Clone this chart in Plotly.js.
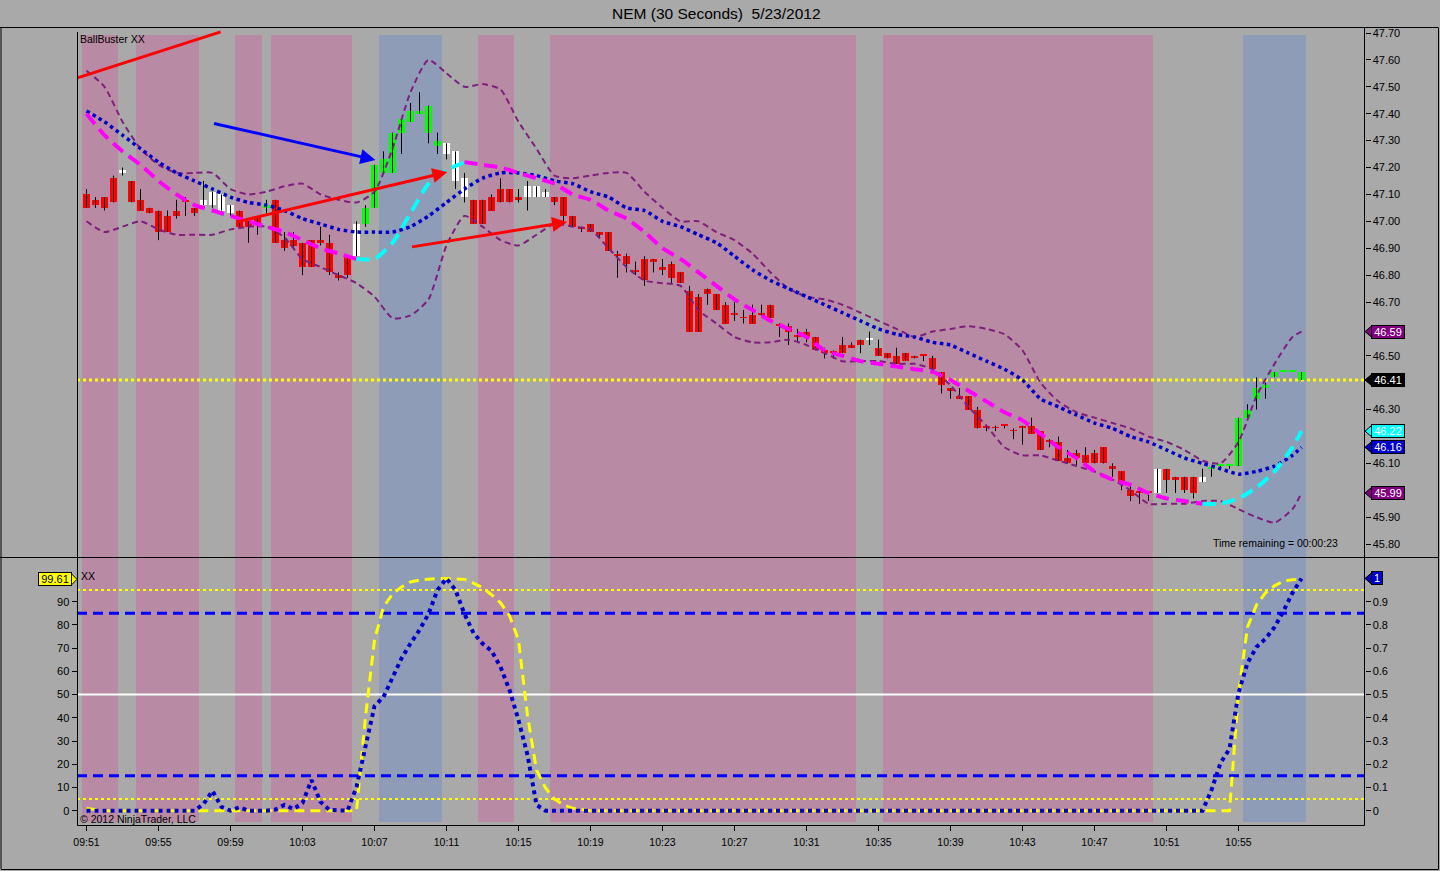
<!DOCTYPE html>
<html><head><meta charset="utf-8">
<script src="https://cdn.plot.ly/plotly-3.0.1.min.js"></script>
<style>html,body{margin:0;padding:0;background:#a9a9a9;overflow:hidden}#chart{width:1440px;height:871px}</style>
</head><body><div id="chart"></div>
<script>
// ---------- DATA (NEM, 30-second bars, 5/23/2012, bar 0 = 09:51:00) ----------
const tickBars   = [0,8,16,24,32,40,48,56,64,72,80,88,96,104,112,120,128];
const tickLabels = ['09:51','09:55','09:59','10:03','10:07','10:11','10:15','10:19','10:23','10:27','10:31','10:35','10:39','10:43','10:47','10:51','10:55'];
// price labels visible on the right axis (46.60, 46.40, 46.20, 46.00 are hidden behind value tags)
const priceTicks = [45.80,45.90,46.10,46.30,46.50,46.70,46.80,46.90,47.00,47.10,47.20,47.30,47.40,47.50,47.60,47.70];
const oscTicks = [0,10,20,30,40,50,60,70,80,90];
const oscRightTicks = [0,0.1,0.2,0.3,0.4,0.5,0.6,0.7,0.8,0.9];
const oscRightLabels = ['0','0.1','0.2','0.3','0.4','0.5','0.6','0.7','0.8','0.9'];

const opens = [
47.10,47.08,47.09,47.16,47.18,47.15,47.08,47.05,47.04,47.02,
47.04,47.08,47.05,47.06,47.06,47.04,47.03,47.04,47.00,47.02,
47.05,47.08,46.93,46.93,46.92,46.93,46.93,46.92,46.80,46.87,
46.87,46.99,47.05,47.18,47.18,47.33,47.37,47.40,47.33,47.28,
47.29,47.26,47.16,47.08,47.08,47.09,47.12,47.12,47.09,47.09,
47.09,47.09,47.09,47.09,47.02,46.98,46.99,46.96,46.96,46.88,
46.87,46.82,46.86,46.86,46.83,46.84,46.81,46.74,46.72,46.75,
46.73,46.69,46.66,46.64,46.65,46.66,46.69,46.62,46.61,46.57,
46.59,46.57,46.52,46.51,46.54,46.54,46.56,46.56,46.53,46.51,
46.50,46.51,46.50,46.50,46.49,46.44,46.38,46.35,46.35,46.30,
46.24,46.23,46.24,46.22,46.24,46.24,46.22,46.18,46.18,46.12,
46.14,46.13,46.14,46.16,46.09,46.07,46.00,45.99,45.99,45.99,
46.08,46.05,46.05,46.05,46.03,46.08,46.09,46.09,46.09,46.27,
46.34,46.38,46.42,46.44,46.44,46.44];
const highs = [
47.12,47.09,47.09,47.17,47.20,47.15,47.12,47.05,47.04,47.04,
47.08,47.09,47.05,47.15,47.11,47.10,47.06,47.04,47.00,47.02,
47.08,47.08,46.96,46.96,46.92,46.93,46.98,46.95,46.81,46.87,
47.00,47.06,47.21,47.26,47.33,47.38,47.44,47.48,47.43,47.33,
47.29,47.26,47.18,47.08,47.08,47.10,47.16,47.12,47.12,47.15,
47.13,47.12,47.09,47.09,47.02,46.98,46.99,46.96,46.96,46.89,
46.88,46.85,46.87,46.86,46.86,46.85,46.81,46.76,46.73,46.75,
46.73,46.70,46.70,46.67,46.69,46.69,46.69,46.62,46.62,46.60,
46.60,46.57,46.53,46.52,46.57,46.55,46.56,46.59,46.56,46.51,
46.53,46.51,46.50,46.50,46.50,46.44,46.38,46.38,46.35,46.31,
46.24,46.24,46.24,46.23,46.24,46.27,46.22,46.19,46.20,46.15,
46.15,46.16,46.15,46.16,46.10,46.07,46.02,46.00,45.99,46.08,
46.08,46.05,46.05,46.05,46.08,46.09,46.09,46.09,46.27,46.32,
46.42,46.40,46.44,46.44,46.44,46.44];
const lows = [
47.05,47.05,47.04,47.07,47.17,47.07,47.04,47.03,46.93,46.96,
47.01,47.02,47.02,47.06,47.05,47.04,47.02,46.98,46.92,46.95,
47.03,46.92,46.89,46.90,46.80,46.83,46.91,46.80,46.78,46.79,
46.87,46.98,47.05,47.18,47.18,47.25,47.37,47.40,47.29,47.25,
47.23,47.12,47.07,46.99,46.99,47.04,47.07,47.07,47.07,47.04,
47.09,47.09,47.06,46.99,46.98,46.96,46.96,46.94,46.89,46.79,
46.81,46.80,46.76,46.81,46.80,46.77,46.77,46.59,46.59,46.69,
46.67,46.62,46.63,46.62,46.62,46.65,46.64,46.57,46.54,46.55,
46.55,46.52,46.49,46.49,46.51,46.53,46.51,46.54,46.50,46.49,
46.47,46.48,46.49,46.48,46.45,46.36,46.34,46.34,46.30,46.23,
46.22,46.22,46.23,46.19,46.17,46.21,46.15,46.16,46.11,46.10,
46.09,46.10,46.10,46.10,46.05,46.00,45.96,45.95,45.96,45.99,
45.99,45.99,45.99,45.97,46.03,46.05,46.08,46.08,46.09,46.26,
46.30,46.34,46.42,46.44,46.44,46.41];
const closes = [
47.05,47.06,47.05,47.07,47.19,47.07,47.04,47.03,46.96,46.96,
47.02,47.07,47.03,47.08,47.11,47.10,47.06,46.98,46.98,46.99,
47.06,46.92,46.90,46.91,46.83,46.83,46.92,46.81,46.79,46.80,
46.99,47.05,47.21,47.23,47.33,47.38,47.41,47.41,47.43,47.30,
47.25,47.15,47.09,46.99,46.99,47.04,47.07,47.07,47.08,47.13,
47.13,47.11,47.07,47.02,46.98,46.97,46.96,46.95,46.89,46.87,
46.84,46.81,46.78,46.85,46.82,46.79,46.77,46.59,46.59,46.73,
46.67,46.62,46.65,46.64,46.62,46.65,46.64,46.61,46.59,46.57,
46.57,46.52,46.51,46.51,46.51,46.53,46.54,46.56,46.50,46.49,
46.47,46.48,46.49,46.50,46.45,46.39,46.37,46.34,46.30,46.23,
46.23,46.23,46.24,46.22,46.23,46.21,46.15,46.18,46.11,46.10,
46.12,46.10,46.10,46.10,46.08,46.03,45.98,45.99,45.99,46.08,
46.04,46.04,46.00,45.99,46.05,46.08,46.09,46.09,46.27,46.30,
46.38,46.39,46.44,46.44,46.44,46.41];
// bar colour state: r = bearish (red), g = bullish (green), w = neutral (white)
const barStates = ('rrrrwrrrrr'+'rrrwwwwrrr'+'grrrrrrrrr'+'wggggggggg'+'wwwrrrrrrw'+
                   'wwrrrrrrrr'+'rrrrrrrrrr'+'rrrrrrrrrr'+'rrrrrrrwrr'+'rrrrrrrrrr'+
                   'rrrrrrrrrr'+'rrrrrrrrrw'+'rrrrwggggg'+'gggggg').split('');

// indicator samples (every second bar)
const lineBars = [0,2,4,6,8,10,12,14,16,18,20,22,24,26,28,30,32,34,36,38,40,42,44,46,48,50,52,54,56,58,60,62,64,66,68,70,72,74,76,78,80,82,84,86,88,90,92,94,96,98,100,102,104,106,108,110,112,114,116,118,120,122,124,126,128,130,132,134,135];
const upperBand = [
47.56,47.50,47.37,47.27,47.21,47.18,47.18,47.18,47.12,47.10,
47.11,47.13,47.14,47.10,47.08,47.07,47.11,47.27,47.48,47.60,
47.55,47.50,47.51,47.49,47.37,47.27,47.17,47.16,47.17,47.18,
47.18,47.11,47.05,47.00,47.00,46.96,46.93,46.88,46.81,46.75,
46.72,46.71,46.69,46.66,46.63,46.60,46.57,46.59,46.60,46.61,
46.60,46.58,46.52,46.40,46.33,46.29,46.27,46.25,46.23,46.20,
46.18,46.15,46.11,46.10,46.18,46.35,46.47,46.57,46.59];
const lowerBand = [
47.00,46.96,46.98,47.00,46.97,46.95,46.95,46.95,46.97,46.98,
46.98,46.94,46.86,46.83,46.80,46.77,46.72,46.64,46.65,46.71,
46.91,47.02,46.98,46.93,46.91,46.95,46.99,46.98,46.97,46.90,
46.83,46.78,46.77,46.76,46.67,46.62,46.57,46.55,46.55,46.56,
46.54,46.51,46.48,46.48,46.48,46.47,46.47,46.45,46.39,46.31,
46.24,46.16,46.13,46.13,46.11,46.09,46.07,46.04,46.00,45.95,
45.95,45.95,45.96,45.96,45.93,45.90,45.88,45.93,45.99];
const middleBand = [
47.41,47.37,47.32,47.27,47.22,47.18,47.15,47.12,47.09,47.07,
47.06,47.04,47.01,46.99,46.97,46.96,46.96,46.96,46.98,47.02,
47.07,47.12,47.16,47.18,47.18,47.17,47.15,47.14,47.11,47.09,
47.05,47.04,47.00,46.98,46.95,46.92,46.87,46.82,46.78,46.75,
46.72,46.69,46.66,46.63,46.60,46.58,46.57,46.55,46.54,46.51,
46.48,46.45,46.41,46.34,46.31,46.28,46.25,46.23,46.20,46.18,
46.15,46.12,46.10,46.08,46.06,46.07,46.09,46.13,46.16];
const trendMA = [
47.40,47.32,47.26,47.21,47.15,47.10,47.06,47.04,47.02,47.00,
46.98,46.96,46.93,46.90,46.88,46.86,46.86,46.92,47.03,47.14,
47.19,47.22,47.21,47.20,47.18,47.16,47.14,47.10,47.08,47.04,
47.01,46.96,46.90,46.86,46.81,46.76,46.71,46.67,46.63,46.60,
46.57,46.52,46.50,46.48,46.47,46.46,46.45,46.44,46.41,46.37,
46.33,46.29,46.26,46.21,46.16,46.12,46.07,46.04,46.02,45.99,
45.97,45.96,45.95,45.95,45.97,46.01,46.07,46.16,46.22];

// lower panel "XX" oscillator, one value per bar (0-100)
const oscFast = [
0,0,0,0,0,0,0,0,0,0,
0,0,0,2.9,8.5,1.6,0,1.5,0,0,
0,0.5,2.5,0.7,3.3,13.2,3.8,0.3,0,0,
10.2,28.3,45,49,57.6,65.6,72,77.8,84.7,95,
100,95,84.7,76.5,72,68.8,61.9,52,39,24,
2.5,0,0,0,0,0,0,0,0,0,
0,0,0,0,0,0,0,0,0,0,
0,0,0,0,0,0,0,0,0,0,
0,0,0,0,0,0,0,0,0,0,
0,0,0,0,0,0,0,0,0,0,
0,0,0,0,0,0,0,0,0,0,
0,0,0,0,0,0,0,0,0,0,
0,0,0,0,0,8.9,20.5,26.6,50.7,63.6,
70.5,74,79,86,93.8,100];
const oscSlow = [
1,0.5,0,0,0,0,0,0,0,0,
0,0,0,0,0,0,0,0,0,0,
0,0,0,0,0,0,0,0,0,0,
0,40.4,73.5,87.7,93.3,96.3,98.5,99.3,99.8,100,
100,99.9,99.6,98,96,93,89.5,84,73.5,41,
17.5,9.8,5,2.5,1.1,0.5,0,0,0,0,
0,0,0,0,0,0,0,0,0,0,
0,0,0,0,0,0,0,0,0,0,
0,0,0,0,0,0,0,0,0,0,
0,0,0,0,0,0,0,0,0,0,
0,0,0,0,0,0,0,0,0,0,
0,0,0,0,0,0,0,0,0,0,
0,0,0,0,0,0,0,0,50.7,79,
88.6,93.8,96.8,98.9,99.4,99.61];
const oscUpperLevels = [95, 5];
const oscBandLevels = [85, 15];
const oscMidLevel = 50;

// shaded zones (bar index ranges)
const zoneStart = [0, 6, 17, 21, 33, 44, 52, 89, 129];
const zoneEnd   = [3, 12, 19, 29, 39, 47, 85, 118, 135];
const zoneKind  = ['bear','bear','bear','bear','bull','bear','bear','bear','bull'];

// hand-drawn lines / arrows on the chart: [barFrom, priceFrom, barTo, priceTo]
const drawnTrendLine = [-1, 47.533, 14.9, 47.704];
const drawnArrows = [
  {from:[14.0, 47.365], to:[32.1, 47.228], color:'#0000ff'},
  {from:[16.6, 46.997], to:[40.1, 47.183], color:'#ff0000'},
  {from:[36.0, 46.904], to:[53.4, 46.997], color:'#ff0000'}
];

// ---------- DRAWING ----------
const W = 1440, H = 871;
const xp = px => px / W;
const yp = py => 1 - py / H;
const FONT = '"Liberation Sans", Arial, Helvetica, sans-serif';
const bgGray = '#a9a9a9';
const colorMap = {r:'#ff0000', g:'#00ff00', w:'#ffffff'};
const barIdx = opens.map((_, i) => i);

const traces = [];

// wicks
const wx = [], wy = [];
barIdx.forEach(i => { wx.push(i, i, null); wy.push(lows[i], highs[i], null); });
traces.push({type:'scatter', mode:'lines', x:wx, y:wy, xaxis:'x', yaxis:'y',
  line:{color:'#000000', width:1}, hoverinfo:'skip'});

// bodies
traces.push({type:'bar', x:barIdx, xaxis:'x', yaxis:'y',
  base: barIdx.map(i => Math.min(opens[i], closes[i])),
  y: barIdx.map(i => Math.max(Math.abs(closes[i] - opens[i]), 0.006)),
  width: 0.72,
  marker:{color: barStates.map(s => colorMap[s]), line:{width:0}},
  hoverinfo:'skip'});

// Bollinger bands
const bandColor = '#7e1f7e';
traces.push({type:'scatter', mode:'lines', x:lineBars, y:upperBand, xaxis:'x', yaxis:'y',
  line:{color:bandColor, width:2, dash:'6px,4px', shape:'spline', smoothing:0.6}});
traces.push({type:'scatter', mode:'lines', x:lineBars, y:lowerBand, xaxis:'x', yaxis:'y',
  line:{color:bandColor, width:2, dash:'6px,4px', shape:'spline', smoothing:0.6}});
traces.push({type:'scatter', mode:'lines', x:lineBars, y:middleBand, xaxis:'x', yaxis:'y',
  line:{color:'#0000c8', width:3.5, dash:'dot', shape:'spline', smoothing:0.6}});

// trend MA: cyan when rising, magenta when falling
(function(){
  const n = trendMA.length;
  const up = k => trendMA[k + 1] >= trendMA[k];
  let start = 0;
  for (let k = 0; k < n - 1; k++) {
    if (k === n - 2 || up(k + 1) !== up(k)) {
      traces.push({type:'scatter', mode:'lines', xaxis:'x', yaxis:'y',
        x: lineBars.slice(start, k + 2), y: trendMA.slice(start, k + 2),
        line:{color: up(k) ? '#00ffff' : '#ff00ff', width:4, dash:'13px,7px', shape:'spline', smoothing:0.6}});
      start = k + 1;
    }
  }
})();

// lower panel oscillator
traces.push({type:'scatter', mode:'lines', x:barIdx, y:oscSlow, xaxis:'x', yaxis:'y2',
  line:{color:'#ffff00', width:3, dash:'10px,6px'}});
traces.push({type:'scatter', mode:'lines', x:barIdx, y:oscFast, xaxis:'x', yaxis:'y2',
  line:{color:'#0000cc', width:4, dash:'dot'}});

// ---------- shapes ----------
const shapes = [];
const zoneColor = {bear:'#b98aa3', bull:'#8f9cb7'};
zoneStart.forEach((s, j) => {
  const c = zoneColor[zoneKind[j]];
  shapes.push({type:'rect', xref:'x', yref:'paper', x0:s - 0.5, x1:zoneEnd[j] + 0.5,
    y0:yp(557), y1:yp(35), fillcolor:c, line:{width:0}, layer:'below'});
  shapes.push({type:'rect', xref:'x', yref:'paper', x0:s - 0.5, x1:zoneEnd[j] + 0.5,
    y0:yp(822), y1:yp(558), fillcolor:c, line:{width:0}, layer:'below'});
});
oscUpperLevels.forEach(v => shapes.push({type:'line', xref:'paper', yref:'y2', x0:xp(77), x1:xp(1364), y0:v, y1:v,
  line:{color:'#ffff00', width:2, dash:'dot'}, layer:'below'}));
oscBandLevels.forEach(v => shapes.push({type:'line', xref:'paper', yref:'y2', x0:xp(77), x1:xp(1364), y0:v, y1:v,
  line:{color:'#0000ff', width:3, dash:'10px,6px'}, layer:'below'}));
shapes.push({type:'line', xref:'paper', yref:'y2', x0:xp(77), x1:xp(1364), y0:oscMidLevel, y1:oscMidLevel,
  line:{color:'#ffffff', width:2}, layer:'below'});
const lastClose = closes[closes.length - 1];
shapes.push({type:'line', xref:'paper', yref:'y', x0:xp(77), x1:xp(1364), y0:lastClose, y1:lastClose,
  line:{color:'#ffff00', width:3, dash:'dot'}, layer:'below'});

// hand-drawn red trend line
shapes.push({type:'line', xref:'x', yref:'y', x0:drawnTrendLine[0], y0:drawnTrendLine[1],
  x1:drawnTrendLine[2], y1:drawnTrendLine[3], line:{color:'#ff0000', width:3}});

// frame lines
const frame = (x0, y0, x1, y1) => shapes.push({type:'line', xref:'paper', yref:'paper',
  x0:xp(x0), y0:yp(y0), x1:xp(x1), y1:yp(y1), line:{color:'#000000', width:1}});
frame(0, 27.5, 1438, 27.5);
frame(0, 557.5, 1438, 557.5);
frame(1, 27.5, 1, 869);
frame(1438.5, 27.5, 1438.5, 869);
frame(1, 869.5, 1438.5, 869.5);
frame(77.5, 32, 77.5, 825.5);
frame(1364.5, 27.5, 1364.5, 825.5);
frame(77.5, 825.5, 1364.5, 825.5);

// ---------- annotations ----------
const annotations = [];
drawnArrows.forEach(a => annotations.push({xref:'x', yref:'y', axref:'x', ayref:'y',
  x:a.to[0], y:a.to[1], ax:a.from[0], ay:a.from[1], text:'', showarrow:true,
  arrowhead:2, arrowsize:1, arrowwidth:3, arrowcolor:a.color, standoff:0}));

function rightTag(yref, v, label, bg, fg, h) {
  shapes.push({type:'path', xref:'paper', yref:yref,
    path:`M ${xp(1365)},${v} L ${xp(1372)},${v + h} L ${xp(1372)},${v - h} Z`,
    fillcolor:bg, line:{color:'#000000', width:1}});
  annotations.push({xref:'paper', yref:yref, x:xp(1371), y:v, xanchor:'left', yanchor:'middle',
    text:label, showarrow:false, bgcolor:bg, bordercolor:'#000000', borderwidth:1, borderpad:0,
    width: label.length > 2 ? 32 : 10, height:12, align:'center',
    font:{family:FONT, size:11, color:fg}});
}
const ph = 6 / 269;
const last = arr => arr[arr.length - 1];
rightTag('y', last(upperBand), last(upperBand).toFixed(2), '#800080', '#ffffff', ph);
rightTag('y', lastClose, lastClose.toFixed(2), '#000000', '#ffffff', ph);
rightTag('y', last(trendMA), last(trendMA).toFixed(2), '#00ffff', '#ffffff', ph);
rightTag('y', last(middleBand), last(middleBand).toFixed(2), '#0000cc', '#ffffff', ph);
rightTag('y', last(lowerBand), last(lowerBand).toFixed(2), '#800080', '#ffffff', ph);
rightTag('y3', last(oscFast) / 100, String(last(oscFast) / 100), '#0000cc', '#ffffff', 6 / 232.2);

// left tag for slow oscillator
(function(){
  const v = last(oscSlow), h = 6 / 2.3225;
  shapes.push({type:'path', xref:'paper', yref:'y2',
    path:`M ${xp(77)},${v} L ${xp(71)},${v + h} L ${xp(71)},${v - h} Z`,
    fillcolor:'#ffff00', line:{color:'#000000', width:1}});
  annotations.push({xref:'paper', yref:'y2', x:xp(72), y:v, xanchor:'right', yanchor:'middle',
    text:v.toFixed(2), showarrow:false, bgcolor:'#ffff00', bordercolor:'#000000', borderwidth:1,
    borderpad:0, width:32, height:12, font:{family:FONT, size:11, color:'#000000'}});
})();

const txt = (t, x, y, anchor, size) => annotations.push({xref:'paper', yref:'paper', x:xp(x), y:yp(y),
  xanchor:anchor, yanchor:'middle', text:t, showarrow:false, font:{family:FONT, size:size, color:'#000000'}});
txt('NEM (30 Seconds)  5/23/2012', 716, 13, 'center', 15.5);
txt('BallBuster XX', 78, 39, 'left', 10.5);
txt('XX', 79, 576, 'left', 10.5);
txt('© 2012 NinjaTrader, LLC', 78, 819, 'left', 10.5);
txt('Time remaining = 00:00:23', 1340, 543, 'right', 10.5);

const axisCommon = {showgrid:false, zeroline:false, showline:false, ticks:'outside', ticklen:5,
  tickcolor:'#000000', tickwidth:1, tickfont:{family:FONT, size:11, color:'#000000'}, fixedrange:true};

const layout = {
  width:W, height:H, margin:{l:0, r:0, t:0, b:0, pad:0},
  paper_bgcolor:bgGray, plot_bgcolor:'rgba(0,0,0,0)',
  showlegend:false, hovermode:false, bargap:0,
  font:{family:FONT, size:11, color:'#000000'},
  xaxis:Object.assign({}, axisCommon, {domain:[xp(77.5), xp(1364.5)], range:[-1, 142], anchor:'y2',
    tickmode:'array', tickvals:tickBars, ticktext:tickLabels, ticklabelstandoff:2,
    tickfont:{family:FONT, size:10.5, color:'#000000'}}),
  yaxis:Object.assign({}, axisCommon, {domain:[yp(557), yp(28)], range:[45.752, 47.7186], side:'right', anchor:'x',
    tickmode:'array', tickvals:priceTicks, ticktext:priceTicks.map(v => v.toFixed(2))}),
  yaxis2:Object.assign({}, axisCommon, {domain:[yp(825), yp(558)], range:[-6.16, 108.8], side:'left', anchor:'x',
    tickmode:'array', tickvals:oscTicks, ticktext:oscTicks.map(String)}),
  yaxis3:Object.assign({}, axisCommon, {overlaying:'y2', range:[-0.0616, 1.088], side:'right', anchor:'x',
    tickmode:'array', tickvals:oscRightTicks, ticktext:oscRightLabels}),
  shapes: shapes,
  annotations: annotations
};

Plotly.newPlot('chart', traces, layout, {staticPlot:true, displayModeBar:false});
</script>
</body></html>
